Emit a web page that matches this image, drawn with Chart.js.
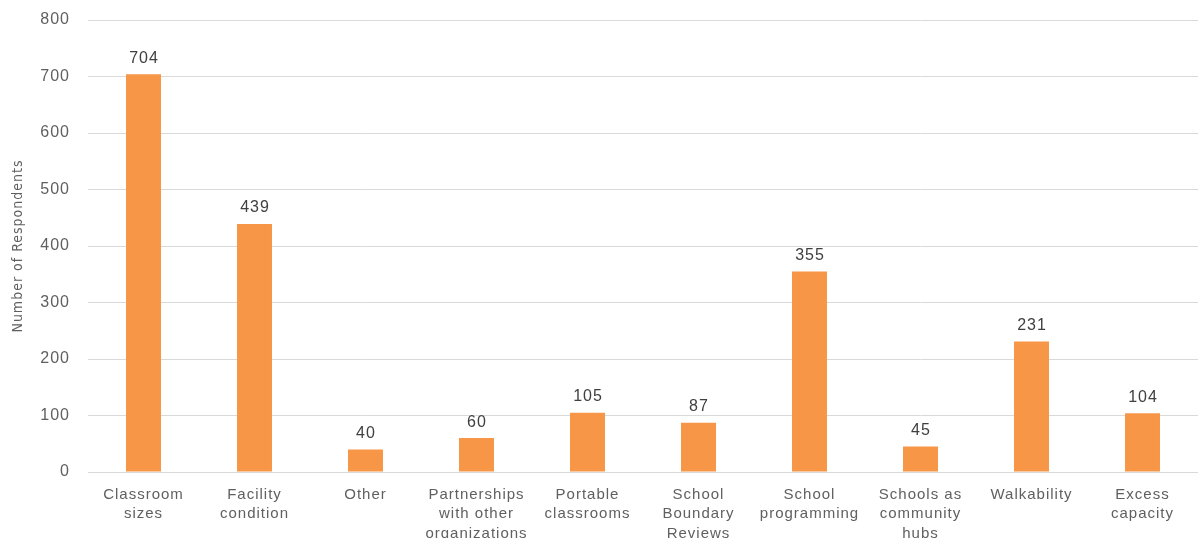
<!DOCTYPE html>
<html lang="en">
<head>
<meta charset="UTF-8" />
<title>respondents chart</title>
<script src="https://cdn.jsdelivr.net/npm/chart.js"></script>
<style>
  body, html { margin: 0; padding: 0; background: #fff; }
  #wrap { width: 1198px; height: 538px; }
</style>
</head>
<body>
<div id="wrap"><canvas id="chart"></canvas></div>
<script>
  const categories = [
    ['Classroom', 'sizes'],
    ['Facility', 'condition'],
    ['Other'],
    ['Partnerships', 'with other', 'organizations'],
    ['Portable', 'classrooms'],
    ['School', 'Boundary', 'Reviews'],
    ['School', 'programming'],
    ['Schools as', 'community', 'hubs'],
    ['Walkability'],
    ['Excess', 'capacity']
  ];
  const respondents = [704, 439, 40, 60, 105, 87, 355, 45, 231, 104];
  const yTicks = [0, 100, 200, 300, 400, 500, 600, 700, 800];

  // the original font is wide and airy, so space the letters out a bit
  const spacing = {
    id: 'spacing',
    beforeUpdate(chart) { chart.ctx.letterSpacing = '1px'; },
    beforeDraw(chart) { chart.ctx.letterSpacing = '1px'; }
  };

  const barLabels = {
    id: 'barLabels',
    afterDatasetsDraw(chart) {
      const ctx = chart.ctx;
      ctx.save();
      ctx.letterSpacing = '1px';
      ctx.font = '16px "Liberation Sans", sans-serif';
      ctx.fillStyle = '#404040';
      ctx.textAlign = 'center';
      ctx.textBaseline = 'bottom';
      chart.getDatasetMeta(0).data.forEach((bar, i) => {
        ctx.fillText(respondents[i], bar.x + 0.5, bar.y - 8);
      });
      ctx.restore();
    }
  };

  new Chart(document.getElementById('chart'), {
    type: 'bar',
    data: {
      labels: categories,
      datasets: [{
        data: respondents,
        backgroundColor: '#f79646',
        categoryPercentage: 1,
        barPercentage: 0.315
      }]
    },
    plugins: [spacing, barLabels],
    options: {
      responsive: true,
      maintainAspectRatio: false,
      animation: false,
      layout: { padding: { top: 20, right: 0, bottom: 0, left: 10 } },
      plugins: { legend: { display: false }, tooltip: { enabled: false } },
      scales: {
        x: {
          grid: { display: false },
          border: { color: '#d9d9d9', width: 1 },
          ticks: {
            color: '#606060',
            font: { family: '"Liberation Sans", sans-serif', size: 15, lineHeight: 1.3 },
            maxRotation: 0,
            autoSkip: false,
            padding: 5
          },
          afterFit(scale) { scale.height = 66; }
        },
        y: {
          min: 0,
          max: 800,
          afterBuildTicks(scale) { scale.ticks = yTicks.map(v => ({ value: v })); },
          grid: { color: '#d9d9d9', drawTicks: false },
          border: { display: false },
          ticks: {
            color: '#606060',
            font: { family: '"Liberation Sans", sans-serif', size: 16 },
            padding: 18
          },
          title: {
            display: true,
            text: 'Number of Respondents',
            color: '#606060',
            font: { family: '"Liberation Sans Narrow", "DejaVu Sans Condensed", sans-serif', size: 14 },
            padding: 0
          },
          afterFit(scale) {
            scale.width = 78;
            scale.paddingTop = 0;
            scale.paddingBottom = 0;
          }
        }
      }
    }
  });
</script>
</body>
</html>
